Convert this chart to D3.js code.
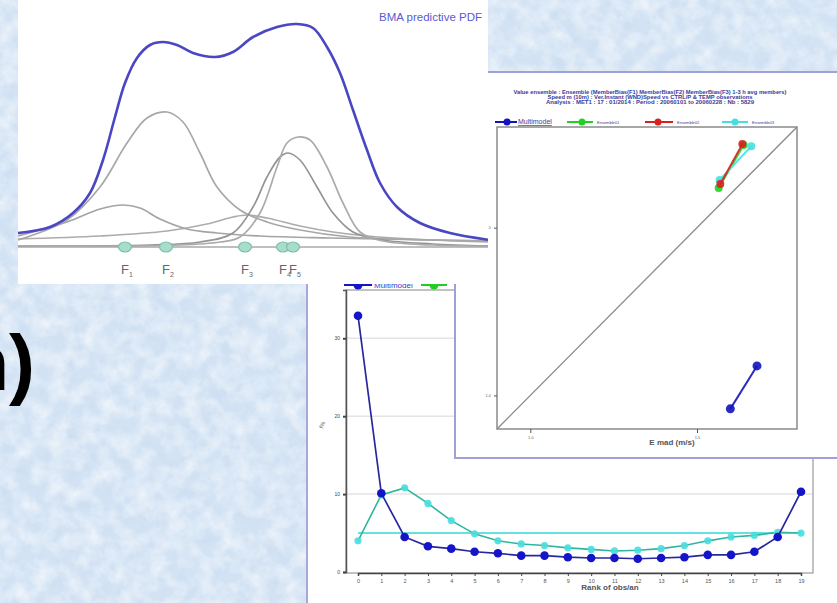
<!DOCTYPE html>
<html><head><meta charset="utf-8">
<script src="https://cdn.jsdelivr.net/npm/d3@7"></script>
<style>html,body{margin:0;padding:0;overflow:hidden;background:#d5e5f5}</style>
</head><body>
<svg id="c" width="837" height="603"></svg>
<script>
// ---------- DATA ----------
// Panel 1: BMA predictive PDF (x = forecast value, y = density)
const bmaPdf = [[0,0.014],[3.2,0.020],[5.5,0.034],[7.2,0.054],[8.5,0.087],[9.7,0.130],[10.7,0.164],[11.9,0.189],[13.2,0.202],[14.5,0.205],[15.9,0.202],[17.5,0.194],[19.7,0.190],[21.5,0.195],[23.5,0.210],[25.9,0.220],[27.9,0.223],[29.5,0.219],[30.9,0.200],[32.2,0.174],[33.5,0.137],[34.9,0.097],[36.2,0.064],[37.9,0.040],[40.2,0.024],[43.2,0.014],[47.2,0.007]];
const pdfF1 = [[0,0.011],[4.9,0.025],[8.2,0.038],[10.5,0.042],[12.2,0.039],[14.2,0.028],[16.9,0.018],[19.9,0.014],[24.2,0.011],[31.2,0.009],[41.5,0.007],[47.2,0.006]];
const pdfF2 = [[0,0.007],[4.9,0.027],[8.2,0.060],[10.9,0.104],[12.9,0.129],[14.9,0.135],[16.5,0.125],[18.2,0.094],[19.9,0.060],[22.2,0.037],[24.9,0.025],[28.2,0.017],[33.2,0.010],[41.5,0.007],[47.2,0.006]];
const pdfF3 = [[0,0.008],[8.2,0.011],[14.9,0.016],[18.9,0.023],[21.5,0.030],[22.9,0.032],[24.9,0.029],[28.2,0.021],[31.5,0.015],[34.9,0.011],[41.5,0.007],[47.2,0.005]];
const pdfF4 = [[0,0.001],[13.2,0.002],[18.2,0.005],[21.5,0.014],[23.5,0.040],[24.9,0.070],[26.2,0.090],[27.0,0.094],[28.2,0.087],[29.9,0.060],[31.5,0.034],[33.5,0.015],[36.5,0.007],[41.5,0.003],[47.2,0.001]];
const pdfF5 = [[0,0.001],[16.2,0.002],[20.2,0.005],[22.2,0.010],[24.2,0.034],[25.9,0.080],[26.9,0.104],[28.0,0.110],[29.2,0.107],[30.9,0.080],[32.5,0.044],[34.2,0.015],[36.5,0.006],[41.5,0.002],[47.2,0.001]];
const memberNames = ["1","2","3","4","5"];
const memberValues = [10.7, 14.8, 22.7, 26.5, 27.5];
const pdfTitle = "BMA predictive PDF";

// Panel 2: spread vs error scatter
const scatterTitle = [
  "Value ensemble : Ensemble (MemberBias(F1) MemberBias(F2) MemberBias(F3) 1-3 h avg members)",
  "Speed m (10m) : Ver.Instant (WND)Speed vs CTRL/P & TEMP observations",
  "Analysis : MET1 : 17 : 01/2014 : Period : 20060101 to 20060228 : Nb : 5829"
];
const scatterSeries = ["Multimodel","Ensemble01","Ensemble02","Ensemble03"];
const scatterX = {Multimodel:[1.60,1.68], Ensemble01:[1.565,1.64], Ensemble02:[1.57,1.636], Ensemble03:[1.568,1.663]};
const scatterY = {Multimodel:[0.96,1.088], Ensemble01:[1.618,1.746], Ensemble02:[1.63,1.749], Ensemble03:[1.642,1.743]};
const scatterTicks = [1, 1.5];
const scatterXLabel = "E mad (m/s)";

// Panel 3: rank histogram (%)
const ranks = d3.range(0, 20).map(String);
const rankMulti = [32.9,10.1,4.5,3.3,3.0,2.6,2.4,2.1,2.1,1.9,1.8,1.8,1.7,1.8,1.9,2.2,2.2,2.6,4.5,10.3];
const rankEns = [4.0,9.9,10.8,8.8,6.6,4.9,4.0,3.6,3.4,3.1,2.9,2.7,2.8,3.0,3.4,4.0,4.5,4.7,5.1,5.0];
const rankUniform = 5;
const rankTicks = [0,10,20,30];
const rankXLabel = "Rank of obs/an";
const rankYLabel = "f%";
const sideText = "n)";

// ---------- DRAW ----------
const svg = d3.select("#c");
const defs = svg.append("defs");
const f = defs.append("filter").attr("id","tex").attr("x",0).attr("y",0).attr("width","100%").attr("height","100%");
f.append("feTurbulence").attr("type","fractalNoise").attr("baseFrequency","0.06").attr("numOctaves",4).attr("seed",7).attr("result","n");
f.append("feColorMatrix").attr("in","n").attr("type","matrix")
 .attr("values","0 0 0 0 1  0 0 0 0 1  0 0 0 0 1  1.6 0 0 0 -0.55");
const f2 = defs.append("filter").attr("id","tex2").attr("x",0).attr("y",0).attr("width","100%").attr("height","100%");
f2.append("feTurbulence").attr("type","fractalNoise").attr("baseFrequency","0.09").attr("numOctaves",3).attr("seed",21).attr("result","n");
f2.append("feColorMatrix").attr("in","n").attr("type","matrix")
 .attr("values","0 0 0 0 0.55  0 0 0 0 0.68  0 0 0 0 0.85  1.4 0 0 0 -0.6");

svg.append("rect").attr("width",837).attr("height",603).attr("fill","#d3e3f4");
svg.append("rect").attr("width",837).attr("height",603).attr("filter","url(#tex2)").attr("opacity",0.6);
svg.append("rect").attr("width",837).attr("height",603).attr("filter","url(#tex)").attr("opacity",0.7);

// ===== Panel 3 (bottom) =====
const p3 = svg.append("g");
p3.append("rect").attr("x",307).attr("y",282).attr("width",540).attr("height",330).attr("fill","#fff").attr("stroke","#a7a7d8").attr("stroke-width",2);
const x3 = d3.scalePoint().domain(ranks).range([358,801]);
const y3 = d3.scaleLinear().domain([0,36.2]).range([572,290]);
p3.append("g").selectAll("line").data(rankTicks.slice(1)).join("line")
  .attr("x1",346).attr("x2",813).attr("y1",d=>y3(d)).attr("y2",d=>y3(d)).attr("stroke","#e4e4e4").attr("stroke-width",1.5);
p3.append("rect").attr("x",346).attr("y",290).attr("width",467).attr("height",283).attr("fill","none").attr("stroke","#9a9a9a").attr("stroke-width",1.2);
const ax3 = p3.append("g").attr("transform","translate(346,0)").call(d3.axisLeft(y3).tickValues(rankTicks).tickSize(3));
ax3.select(".domain").attr("stroke","#555").attr("stroke-width",1.5);
ax3.selectAll("text").attr("font-size",5).attr("fill","#444").attr("font-family","Liberation Sans");
ax3.selectAll(".tick line").attr("stroke","#444").attr("stroke-width",2);
const bx3 = p3.append("g").attr("transform","translate(0,573)").call(d3.axisBottom(x3).tickSize(3));
bx3.select(".domain").attr("stroke","#444").attr("stroke-width",1.5);
bx3.selectAll("text").attr("font-size",5.5).attr("fill","#555").attr("font-family","Liberation Sans");
bx3.selectAll(".tick line").attr("stroke","#444");
p3.append("text").attr("x",610).attr("y",590).attr("text-anchor","middle").attr("font-size",8).attr("font-weight","bold").attr("fill","#555").attr("font-family","Liberation Sans").text(rankXLabel);
p3.append("text").attr("transform","translate(323,429) rotate(-70)").attr("font-size",6).attr("fill","#666").attr("font-family","Liberation Sans").text(rankYLabel);
p3.append("line").attr("x1",x3(ranks[0])).attr("x2",x3(ranks[19])).attr("y1",y3(rankUniform)).attr("y2",y3(rankUniform)).attr("stroke","#35d6d6").attr("stroke-width",1.6);
const ln3 = d3.line().x((d,i)=>x3(ranks[i])).y(d=>y3(d));
p3.append("path").attr("d",ln3(rankEns)).attr("fill","none").attr("stroke","#2fb69c").attr("stroke-width",1.6);
p3.append("g").selectAll("circle").data(rankEns).join("circle").attr("cx",(d,i)=>x3(ranks[i])).attr("cy",d=>y3(d)).attr("r",3.6).attr("fill","#47dede").attr("opacity",0.9);
p3.append("path").attr("d",ln3(rankMulti)).attr("fill","none").attr("stroke","#28289e").attr("stroke-width",1.7);
p3.append("g").selectAll("circle").data(rankMulti).join("circle").attr("cx",(d,i)=>x3(ranks[i])).attr("cy",d=>y3(d)).attr("r",4.3).attr("fill","#1414c8");
p3.append("line").attr("x1",344).attr("x2",372).attr("y1",285).attr("y2",285).attr("stroke","#1414c8").attr("stroke-width",2);
p3.append("circle").attr("cx",358).attr("cy",285).attr("r",4.5).attr("fill","#1414c8");
p3.append("text").attr("x",374).attr("y",288).attr("font-size",8).attr("fill","#3a3ac8").attr("font-family","Liberation Sans").text("Multimodel");
p3.append("line").attr("x1",421).attr("x2",447).attr("y1",285).attr("y2",285).attr("stroke","#22cc22").attr("stroke-width",2);
p3.append("circle").attr("cx",434).attr("cy",285).attr("r",4.5).attr("fill","#22cc22");

// ===== Panel 2 (middle) =====
const p2 = svg.append("g");
p2.append("rect").attr("x",455).attr("y",72).attr("width",400).attr("height",386).attr("fill","#fff").attr("stroke","#a0a0d8").attr("stroke-width",2);
const x2 = d3.scaleLinear().domain([0.9,1.8]).range([497,797]);
const y2 = d3.scaleLinear().domain([0.9,1.8]).range([429,127]);
scatterTitle.forEach((t,i)=>{
  p2.append("text").attr("x",650).attr("y",94+i*5.2).attr("text-anchor","middle").attr("font-size",4.6).attr("font-weight","bold")
    .attr("fill","#3a3a9a").attr("font-family","Liberation Sans").attr("textLength",[273,205,208][i]).attr("lengthAdjust","spacingAndGlyphs").text(t);
});
const colors2 = {Multimodel:"#1212c0", Ensemble01:"#22d022", Ensemble02:"#d82020", Ensemble03:"#44e0e0"};
const legX = [[495,517,507,518],[567,593,582,597],[645,673,658,677],[722,748,735,752]];
scatterSeries.forEach((s,i)=>{
  const L = legX[i];
  p2.append("line").attr("x1",L[0]).attr("x2",L[1]).attr("y1",122).attr("y2",122).attr("stroke",colors2[s]).attr("stroke-width",2);
  p2.append("circle").attr("cx",L[2]).attr("cy",122).attr("r",3.5).attr("fill",colors2[s]);
  p2.append("text").attr("x",L[3]).attr("y",124).attr("font-size",i===0?7:4).attr("fill","#3a3aa0").attr("font-family","Liberation Sans")
    .attr("text-decoration",i===0?"underline":null).text(s);
});
p2.append("rect").attr("x",497).attr("y",127).attr("width",300).attr("height",302).attr("fill","none").attr("stroke","#8a8a8a").attr("stroke-width",1.5);
p2.append("line").attr("x1",x2(0.9)).attr("y1",y2(0.9)).attr("x2",x2(1.8)).attr("y2",y2(1.8)).attr("stroke","#8a8a8a").attr("stroke-width",1.3);
const ax2 = p2.append("g").attr("transform","translate(497,0)").call(d3.axisLeft(y2).tickValues(scatterTicks).tickSize(3));
ax2.select(".domain").remove();
ax2.selectAll("text").attr("font-size",4).attr("fill","#666");
ax2.selectAll(".tick line").attr("stroke","#555");
const bx2 = p2.append("g").attr("transform","translate(0,429)").call(d3.axisBottom(x2).tickValues(scatterTicks).tickSize(4));
bx2.select(".domain").remove();
bx2.selectAll("text").attr("font-size",4).attr("fill","#666");
bx2.selectAll(".tick line").attr("stroke","#555");
p2.append("text").attr("x",672).attr("y",445).attr("text-anchor","middle").attr("font-size",8).attr("font-weight","bold").attr("fill","#555").attr("font-family","Liberation Sans").text(scatterXLabel);
["Ensemble01","Ensemble03","Ensemble02","Multimodel"].forEach(s=>{
  const pts = scatterX[s].map((v,i)=>[x2(v), y2(scatterY[s][i])]);
  p2.append("path").attr("d",d3.line()(pts)).attr("stroke",colors2[s]).attr("stroke-width",2).attr("fill","none").attr("opacity",0.9);
  p2.append("g").selectAll("circle").data(pts).join("circle").attr("cx",d=>d[0]).attr("cy",d=>d[1]).attr("r",s==="Multimodel"?4.5:4).attr("fill",colors2[s]).attr("opacity",0.9);
});

// ===== Panel 1 (top) =====
const p1 = svg.append("g");
p1.append("rect").attr("x",18).attr("y",0).attr("width",470).attr("height",284).attr("fill","#fff");
const x1 = d3.scaleLinear().domain([0,47.2]).range([18,490]);
const y1 = d3.scaleLinear().domain([0,0.25]).range([247,-3]);
const cl = d3.line().x(d=>x1(d[0])).y(d=>y1(d[1])).curve(d3.curveCatmullRom.alpha(0.5));
const clip = defs.append("clipPath").attr("id","p1clip");
clip.append("rect").attr("x",18).attr("y",0).attr("width",470).attr("height",284);
const g1 = p1.append("g").attr("clip-path","url(#p1clip)");
g1.append("line").attr("x1",x1(0)).attr("x2",x1(47.2)).attr("y1",y1(0)).attr("y2",y1(0)).attr("stroke","#a8a8a8").attr("stroke-width",1.5);
[[pdfF3,"#acacac"],[pdfF1,"#a4a4a4"],[pdfF2,"#a8a8a8"],[pdfF4,"#959595"],[pdfF5,"#ababab"]].forEach(([d,c])=>{
  g1.append("path").attr("d",cl(d)).attr("fill","none").attr("stroke",c).attr("stroke-width",1.7);
});
g1.append("path").attr("d",cl(bmaPdf)).attr("fill","none").attr("stroke","#4a46c4").attr("stroke-width",2.6);
g1.append("g").selectAll("ellipse").data(memberValues).join("ellipse")
  .attr("cx",d=>x1(d)).attr("cy",y1(0)).attr("rx",6.5).attr("ry",5).attr("fill","#a8dccb").attr("stroke","#7cbfa8").attr("stroke-width",1.2);
const lab = g1.append("g").selectAll("text").data(memberValues).join("text")
  .attr("x",(d,i)=>x1(d)-4).attr("y",274).attr("font-size",13).attr("fill","#666").attr("font-family","Liberation Sans");
lab.append("tspan").text("F");
lab.append("tspan").attr("font-size",7).attr("dy",3).text((d,i)=>memberNames[i]);
p1.append("text").attr("x",482).attr("y",21).attr("text-anchor","end").attr("font-size",11.5).attr("fill","#5a5ad2").attr("font-family","Liberation Sans").text(pdfTitle);

// side text
svg.append("text").attr("x",35).attr("y",390).attr("text-anchor","end").attr("font-size",78).attr("font-weight","bold").attr("fill","#000").attr("font-family","Liberation Sans").text(sideText);
</script>
</body></html>
